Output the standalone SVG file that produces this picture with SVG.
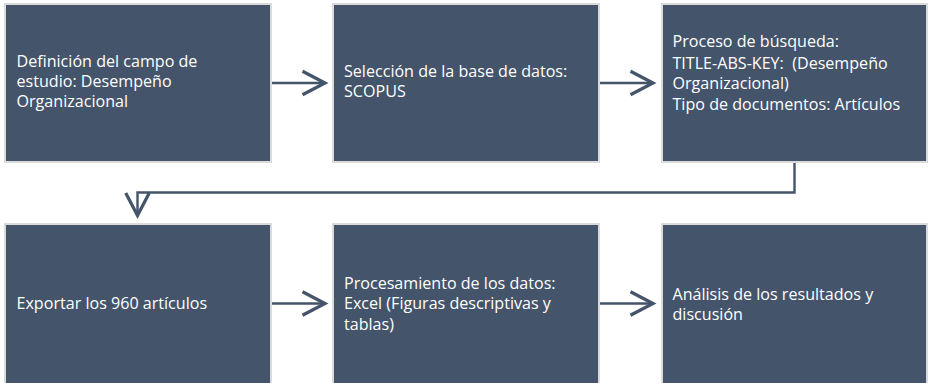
<svg xmlns="http://www.w3.org/2000/svg" width="929" height="383" viewBox="0 0 929 383">
<style>
.box{fill:#44546A;stroke:#DADADA;stroke-width:2}
.t{font-family:"Open Sans","Noto Sans","Liberation Sans",sans-serif;font-size:16.1px;fill:#FFFFFF}
.c{fill:none;stroke:#44546A;stroke-width:2.4}
</style>
<defs>
<marker id="ah" markerUnits="userSpaceOnUse" markerWidth="30" markerHeight="30" viewBox="-20 -12 22 24" refX="0" refY="0" orient="auto" overflow="visible">
<path d="M-18,-9.4 L0,0 L-18,9.4" fill="none" stroke="#44546A" stroke-width="2.6" stroke-linejoin="miter"/>
</marker>
</defs>
<rect width="929" height="383" fill="#FFFFFF"/>
<g id="connectors">
<path class="c" d="M272,83 H325" marker-end="url(#ah)"/>
<path class="c" d="M600,83 H653" marker-end="url(#ah)"/>
<path class="c" d="M794.5,162 V192.5 H137.5 V215.5" marker-end="url(#ah)"/>
<path class="c" d="M272,303.5 H325" marker-end="url(#ah)"/>
<path class="c" d="M600,303.5 H653" marker-end="url(#ah)"/>
</g>
<g id="n1">
<rect class="box" x="5" y="4" width="266" height="158"/>
<text class="t" x="16.5" y="66.7">Definición del campo de</text>
<text class="t" x="16.5" y="86.7">estudio: Desempeño</text>
<text class="t" x="16.5" y="106.7">Organizacional</text>
</g>
<g id="n2">
<rect class="box" x="333" y="4" width="266" height="158"/>
<text class="t" x="344" y="77">Selección de la base de datos:</text>
<text class="t" x="344" y="97">SCOPUS</text>
</g>
<g id="n3">
<rect class="box" x="662" y="4" width="265" height="158"/>
<text class="t" x="672.5" y="47">Proceso de búsqueda:</text>
<text class="t" x="672.5" y="68.5" xml:space="preserve">TITLE-ABS-KEY:  (Desempeño</text>
<text class="t" x="672.5" y="88.5">Organizacional)</text>
<text class="t" x="672.5" y="110">Tipo de documentos: Artículos</text>
</g>
<g id="n4">
<rect class="box" x="5" y="224" width="266" height="162"/>
<text class="t" x="16.5" y="308.5">Exportar los 960 artículos</text>
</g>
<g id="n5">
<rect class="box" x="333" y="224" width="266" height="162"/>
<text class="t" x="344" y="288.7">Procesamiento de los datos:</text>
<text class="t" x="344" y="309">Excel (Figuras descriptivas y</text>
<text class="t" x="344" y="329.5">tablas)</text>
</g>
<g id="n6">
<rect class="box" x="662" y="224" width="265" height="162"/>
<text class="t" x="672.5" y="299.5">Análisis de los resultados y</text>
<text class="t" x="672.5" y="319.5">discusión</text>
</g>
</svg>
